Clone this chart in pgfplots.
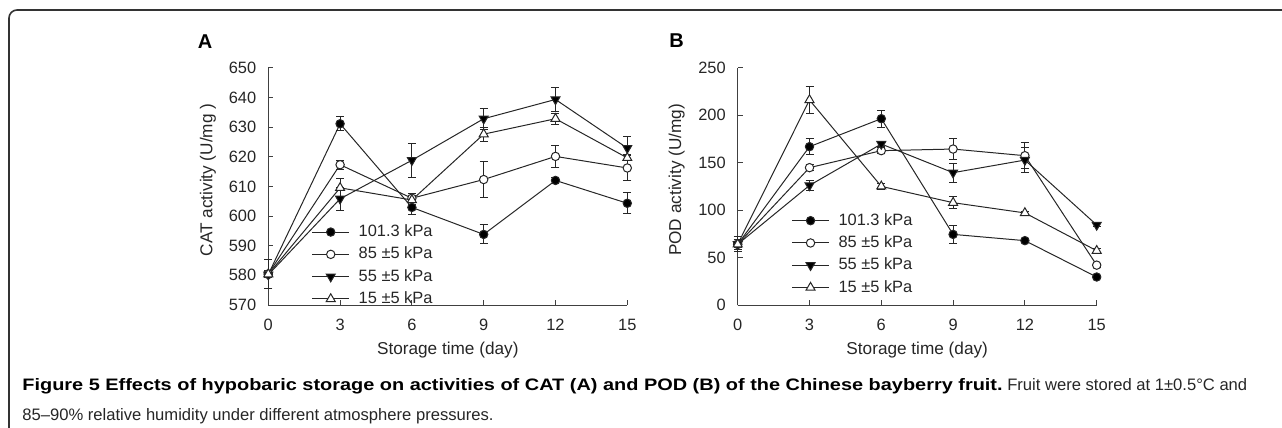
\documentclass[border=0pt]{standalone}
\usepackage{pgfplots}
\pgfplotsset{compat=1.18}
\usepackage{fontspec}
\setmainfont{Liberation Sans}

\pgfplotsset{
    panel/.style={
        scale only axis,
        width=179.5pt, height=118.65pt,
        xmin=0, xmax=15,
        xtick={0,3,6,9,12,15},
        axis x line*=bottom, axis y line*=left,
        axis line style={-, line width=0.5pt, black!75},
        tick style={line width=0.5pt, black!75},
        tick align=inside,
        major tick length=2.5pt,
        ticklabel style={font=\fontsize{8.2}{9}\selectfont, text=black!85},
        xticklabel style={yshift=-3.5pt},
        yticklabel style={xshift=-2.5pt},
        label style={font=\fontsize{8.6}{10}\selectfont, text=black!85},
        xlabel style={at={(axis description cs:0.5,-0.19)}, anchor=center},
        /pgf/number format/assume math mode=true,
        clip=false,
        legend cell align=left,
        legend style={draw=none, fill=none, inner sep=0pt, outer sep=0pt,
            anchor=north west, row sep=3.65pt, column sep=4.5pt,
            font=\fontsize{8.2}{9}\selectfont,
            nodes={inner sep=0pt, text height=6pt, text depth=1.5pt, text=black!85}},
        legend image code/.code={
            \draw[#1, mark repeat=2, mark phase=2]
                plot coordinates {(0pt,0pt) (9.25pt,0pt) (18.5pt,0pt)};
        },
        error bars/y dir=both,
        error bars/y explicit,
        error bars/error bar style={line width=0.5pt, black!85},
        error bars/error mark options={rotate=90, mark size=2pt, line width=0.5pt, black!85},
    },
    s1/.style={black!85, line width=0.5pt, mark=*, mark size=2.1pt, mark options={fill=black}},
    s2/.style={black!85, line width=0.5pt, mark=*, mark size=2.1pt, mark options={fill=white}},
    s3/.style={black!85, line width=0.5pt, mark=triangle*, mark size=2.6pt, mark options={rotate=180, fill=black}},
    s4/.style={black!85, line width=0.5pt, mark=triangle*, mark size=2.6pt, mark options={fill=white}},
}

\begin{document}
\begin{tikzpicture}[x=1pt, y=1pt]
\useasboundingbox (0,0) rectangle (641,-214);
\draw[line width=0.8pt, black!80, rounded corners=4pt] (4.5,-214) -- (4.5,-5) -- (641,-5);

% panel A: CAT
\node[font=\bfseries\fontsize{10}{12}\selectfont] at (102.5,-21) {A};
\begin{axis}[panel,
    at={(134.15pt,-152.5pt)}, anchor=south west,
    ymin=570, ymax=650, ytick={570,580,...,650},
    xlabel={Storage time (day)},
    ylabel={CAT activity (U/mg )},
    ylabel style={at={(axis description cs:-0.168,0.527)}, anchor=center},
    legend style={at={(axis description cs:0.121,0.339)}},
]
\addplot[s1] table[y error=e] {
x y e
0 580.3 1
3 631.1 2.4
6 602.9 2.5
9 593.8 3.2
12 612.0 1
15 604.3 3.5
};
\addplot[s2] table[y error=e] {
x y e
0 580.5 1
3 617.3 1.5
6 606.0 1.5
9 612.3 6.2
12 620.1 3.7
15 616.2 4.3
};
\addplot[s3] table[y error=e] {
x y e
0 580.2 1
3 605.8 3.8
6 618.8 5.8
9 632.8 3.6
12 639.3 4
15 622.9 4
};
\addplot[s4] table[y error=e] {
x y e
0 580.4 5
3 609.5 3.2
6 605.4 1.5
9 627.6 2.4
12 632.8 1.8
15 619.6 1
};
\legend{101.3 kPa, 85 ±5 kPa, 55 ±5 kPa, 15 ±5 kPa}
\end{axis}

% panel B: POD
\node[font=\bfseries\fontsize{10}{12}\selectfont] at (338.3,-20.5) {B};
\begin{axis}[panel,
    at={(368.85pt,-152.5pt)}, anchor=south west,
    ymin=0, ymax=250, ytick={0,50,...,250},
    xlabel={Storage time (day)},
    ylabel={POD activity (U/mg)},
    ylabel style={at={(axis description cs:-0.170,0.527)}, anchor=center},
    legend style={at={(axis description cs:0.150,0.387)}},
]
\addplot[s1] table[y error=e] {
x y e
0 63.9 3
3 166.8 8.5
6 196.3 9
9 74.4 9.7
12 67.8 2
15 29.5 2
};
\addplot[s2] table[y error=e] {
x y e
0 64.0 3
3 144.7 3
6 162.6 3
9 164.3 11
12 157.3 14
15 42.0 2
};
\addplot[s3] table[y error=e] {
x y e
0 64.0 8
3 126.0 5
6 169.6 3
9 139.4 10
12 152.7 13
15 84.3 2
};
\addplot[s4] table[y error=e] {
x y e
0 64.0 5
3 216.0 14
6 125.0 3
9 107.8 6
12 97.0 2
15 57.2 2
};
\legend{101.3 kPa, 85 ±5 kPa, 55 ±5 kPa, 15 ±5 kPa}
\end{axis}

% caption
\node[anchor=base west, inner sep=0pt, font=\fontsize{8.3}{10}\selectfont] at (11,-195)
    {\scalebox{1.2}[1]{\textbf{Figure 5 Effects of hypobaric storage on activities of CAT (A) and POD (B) of the Chinese bayberry fruit.}} {\color{black!85}Fruit were stored at 1±0.5°C and}};
\node[anchor=base west, inner sep=0pt, font=\fontsize{8.3}{10}\selectfont, text=black!85] at (11,-210)
    {85–90\% relative humidity under different atmosphere pressures.};
\end{tikzpicture}
\end{document}
